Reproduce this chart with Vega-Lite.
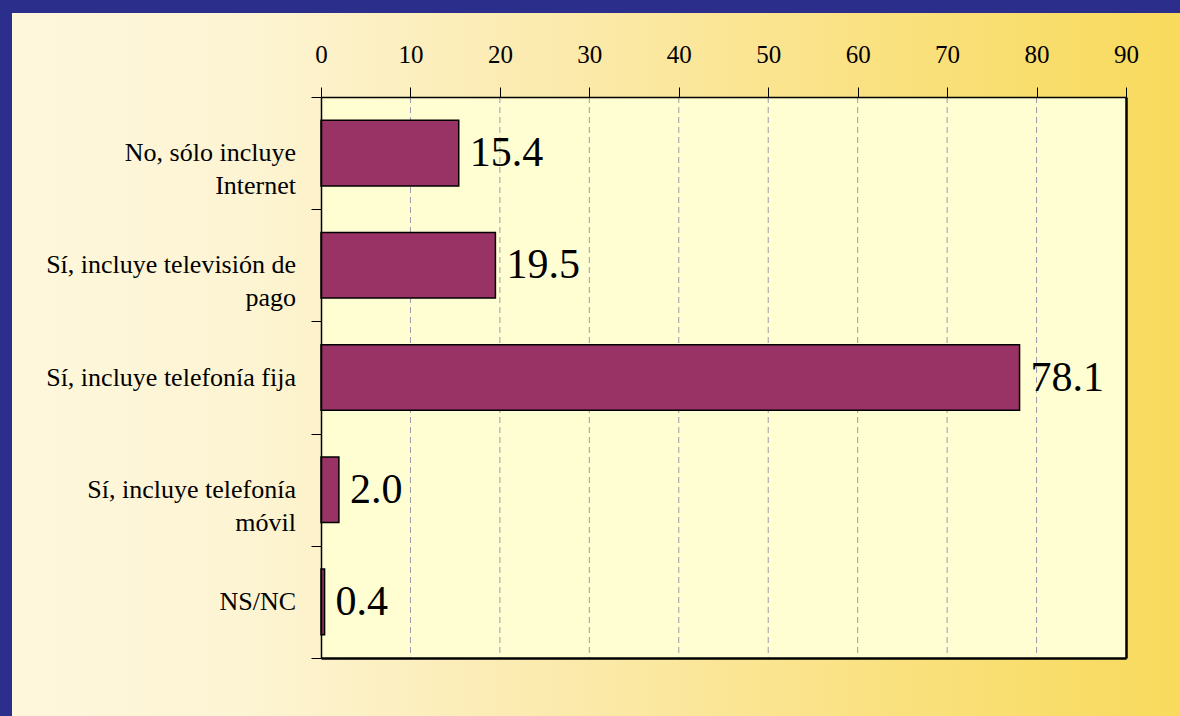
{
  "$schema": "https://vega.github.io/schema/vega-lite/v6.json",
  "autosize": {"type": "none"},
  "padding": {"left": 12, "top": 13, "right": 0, "bottom": 0},
  "width": 1168,
  "height": 703,
  "background": "#2C2E8C",
  "config": {
    "view": {
      "stroke": null,
      "fill": {
        "gradient": "linear", "x1": 0, "y1": 0, "x2": 1, "y2": 0,
        "stops": [
          {"offset": 0, "color": "#FEF7DC"},
          {"offset": 0.2, "color": "#FDF4D3"},
          {"offset": 0.5, "color": "#FBE9A8"},
          {"offset": 0.75, "color": "#FAE17F"},
          {"offset": 1, "color": "#F8DA5C"}
        ]
      }
    },
    "text": {"font": "Liberation Serif", "color": "#000"}
  },
  "data": {
    "values": [
      {"cat": "No, sólo incluye\nInternet", "pct": 15.4},
      {"cat": "Sí, incluye televisión de\npago", "pct": 19.5},
      {"cat": "Sí, incluye telefonía fija", "pct": 78.1},
      {"cat": "Sí, incluye telefonía\nmóvil", "pct": 2.0},
      {"cat": "NS/NC", "pct": 0.4}
    ]
  },
  "layer": [
    {
      "data": {"values": [{"from": 0, "to": 90, "top": 0, "bottom": 1}]},
      "mark": {"type": "rect", "fill": "#FFFDD2"},
      "encoding": {
        "x": {
          "field": "from", "type": "quantitative",
          "scale": {"domain": [0, 90], "range": [309, 1114], "nice": false, "zero": false},
          "axis": {
            "orient": "top", "offset": -84, "title": null, "zindex": 1,
            "values": [0, 10, 20, 30, 40, 50, 60, 70, 80, 90],
            "grid": false,
            "domainColor": "#000", "domainWidth": 1.5,
            "tickColor": "#000", "tickSize": 10, "tickWidth": 1,
            "labelFont": "Liberation Serif", "labelFontSize": 25, "labelColor": "#000",
            "labelPadding": 20, "labelFlush": false, "labelOverlap": false
          }
        },
        "x2": {"field": "to"},
        "y": {
          "field": "top", "type": "quantitative",
          "scale": {"domain": [0, 1], "range": [84, 645], "nice": false, "zero": false},
          "axis": null
        },
        "y2": {"field": "bottom"}
      }
    },
    {
      "data": {"values": [{"g": 10}, {"g": 20}, {"g": 30}, {"g": 40}, {"g": 50}, {"g": 60}, {"g": 70}, {"g": 80}]},
      "mark": {"type": "rule", "stroke": "#9A9AAA", "strokeWidth": 1, "strokeDash": [6, 4]},
      "encoding": {
        "x": {
          "field": "g", "type": "quantitative",
          "scale": {"domain": [0, 90], "range": [309, 1114], "nice": false, "zero": false},
          "axis": null
        },
        "y": {
          "datum": 0, "type": "quantitative",
          "scale": {"domain": [0, 1], "range": [84, 645], "nice": false, "zero": false},
          "axis": null
        },
        "y2": {"datum": 1}
      }
    },
    {
      "mark": {"type": "bar", "height": {"band": 0.585}, "fill": "#993366", "stroke": "#000", "strokeWidth": 1.5},
      "encoding": {
        "x": {
          "field": "pct", "type": "quantitative",
          "scale": {"domain": [0, 90], "range": [309, 1114], "nice": false, "zero": false},
          "axis": {
            "orient": "bottom", "offset": -58, "title": null, "labels": false, "ticks": false,
            "grid": false, "domainColor": "#000", "domainWidth": 2.5, "zindex": 1
          }
        },
        "y": {
          "field": "cat", "type": "nominal", "sort": null,
          "scale": {"range": [84, 645], "paddingInner": 0, "paddingOuter": 0},
          "axis": {
            "orient": "left", "offset": -309, "title": null, "labels": false, "zindex": 1,
            "tickBand": "extent", "ticks": true, "tickSize": 10, "tickColor": "#000", "tickWidth": 1,
            "domainColor": "#000", "domainWidth": 1.5, "grid": false
          }
        }
      }
    },
    {
      "mark": {"type": "text", "align": "left", "baseline": "middle", "dx": 11, "fontSize": 42, "font": "Liberation Serif"},
      "encoding": {
        "x": {
          "field": "pct", "type": "quantitative",
          "scale": {"domain": [0, 90], "range": [309, 1114], "nice": false, "zero": false},
          "axis": null
        },
        "y": {
          "field": "cat", "type": "nominal", "sort": null,
          "scale": {"range": [84, 645], "paddingInner": 0, "paddingOuter": 0},
          "axis": {
            "orient": "right", "offset": -54, "title": null, "labels": false, "ticks": false,
            "grid": false, "domainColor": "#000", "domainWidth": 2.5, "zindex": 1
          }
        },
        "text": {"field": "pct", "type": "quantitative", "format": ".1f"}
      }
    },
    {
      "mark": {"type": "text", "align": "right", "baseline": "middle", "dx": -25, "fontSize": 26, "lineHeight": 33, "lineBreak": "\n", "font": "Liberation Serif"},
      "encoding": {
        "x": {
          "datum": 0, "type": "quantitative",
          "scale": {"domain": [0, 90], "range": [309, 1114], "nice": false, "zero": false},
          "axis": null
        },
        "y": {
          "field": "cat", "type": "nominal", "sort": null,
          "scale": {"range": [84, 645], "paddingInner": 0, "paddingOuter": 0},
          "axis": null
        },
        "text": {"field": "cat", "type": "nominal"}
      }
    }
  ],
  "resolve": {"scale": {"y": "independent"}, "axis": {"x": "independent", "y": "independent"}}
}
